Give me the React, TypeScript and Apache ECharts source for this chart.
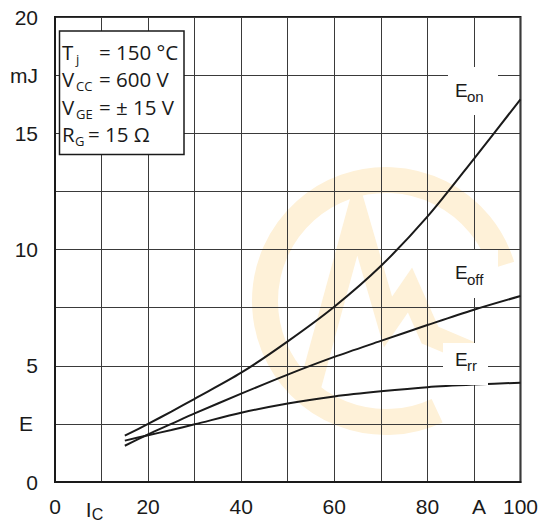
import React, { useEffect, useRef } from "react";
import * as echarts from "echarts";

// Collector current I_C (A)
const currentA = [15, 20, 25, 30, 40, 50, 60, 70, 80, 90, 100];
// Switching energies (mJ)
const eOnMJ = [1.99, 2.5, 3.03, 3.58, 4.7, 6.05, 7.54, 9.29, 11.41, 13.9, 16.46];
const eOffMJ = [1.56, 2.05, 2.5, 2.95, 3.8, 4.62, 5.38, 6.07, 6.75, 7.41, 8.0];
const eRrMJ = [1.78, 2.01, 2.24, 2.48, 2.98, 3.38, 3.68, 3.9, 4.08, 4.19, 4.27];

const xTickLabels: Record<string, string> = {
  "0": "0",
  "10": "{i|I}{c|C}",
  "20": "20",
  "40": "40",
  "60": "60",
  "80": "80",
  "90": "{a|A}",
  "100": "100",
};
const yTickLabels: Record<string, string> = {
  "0": "0",
  "2.5": "{e|E}",
  "5": "5",
  "10": "10",
  "15": "15",
  "17.5": "mJ",
  "20": "20",
};

// Conditions box: [main, subscript, value]
const conditions: [string, string, string][] = [
  ["T", "j", "= 150 °C"],
  ["V", "CC", "= 600 V"],
  ["V", "GE", "= ± 15 V"],
  ["R", "G", "= 15 Ω"],
];

// Curve labels: [main, subscript]
const curveLabels: [string, string][] = [
  ["E", "on"],
  ["E", "off"],
  ["E", "rr"],
];

const AXIS_FONT = "'Liberation Sans', Arial, sans-serif";
const BOX_FONT = "'Open Sans', 'Noto Sans', sans-serif";
const INK = "#1a1a1a";
const WATERMARK = "#fef1d8";

export default function App() {
  const ref = useRef<HTMLDivElement | null>(null);

  useEffect(() => {
    document.body.style.margin = "0";
    if (!ref.current) return;
    const chart = echarts.init(ref.current, undefined, { renderer: "svg" });

    const mkSeries = (vals: number[]) => ({
      type: "line",
      data: currentA.map((x, i) => [x, vals[i]]),
      showSymbol: false,
      smooth: 0.3,
      silent: true,
      lineStyle: { color: INK, width: 2 },
      z: 5,
    });

    // label box positions (pixels) for the three curve labels
    const labelBoxes = [
      { x: 448, y: 67, w: 50, h: 48, ex: 455, ey: 90, sx: 467, sy: 96.5 },
      { x: 448, y: 250, w: 50, h: 48, ex: 455, ey: 272.5, sx: 467, sy: 279 },
      { x: 443, y: 343, w: 45, h: 42, ex: 455, ey: 359, sx: 467, sy: 365.5 },
    ];

    const graphics: any[] = [];

    // faint watermark
    graphics.push({
      type: "arc",
      z: -10,
      silent: true,
      shape: {
        cx: 386,
        cy: 301,
        r: 121,
        startAngle: (65 * Math.PI) / 180,
        endAngle: (343 * Math.PI) / 180,
        clockwise: true,
      },
      style: { stroke: WATERMARK, lineWidth: 26, fill: null },
    });
    graphics.push({
      type: "polyline",
      z: -10,
      silent: true,
      shape: {
        points: [
          [307, 398],
          [357, 215],
          [388, 322],
          [410, 290],
          [430, 335],
          [470, 352],
        ],
      },
      style: { stroke: WATERMARK, lineWidth: 22, fill: null, lineJoin: "miter" },
    });

    labelBoxes.forEach((b, i) => {
      graphics.push({
        type: "rect",
        z: 10,
        silent: true,
        shape: { x: b.x, y: b.y, width: b.w, height: b.h },
        style: { fill: "#ffffff" },
      });
      graphics.push({
        type: "text",
        z: 11,
        silent: true,
        x: b.ex,
        y: b.ey,
        style: {
          text: curveLabels[i][0],
          font: `19px ${AXIS_FONT}`,
          fill: INK,
          verticalAlign: "middle",
          align: "left",
        },
      });
      graphics.push({
        type: "text",
        z: 11,
        silent: true,
        x: b.sx,
        y: b.sy,
        style: {
          text: curveLabels[i][1],
          font: `15px ${AXIS_FONT}`,
          fill: INK,
          verticalAlign: "middle",
          align: "left",
        },
      });
    });

    // conditions box
    graphics.push({
      type: "rect",
      z: 10,
      silent: true,
      shape: { x: 59.5, y: 31, width: 124.5, height: 123.5 },
      style: { fill: "#ffffff", stroke: INK, lineWidth: 1.5 },
    });
    const rowY = [51.5, 79, 106.5, 134];
    const subX = [76, 76, 76, 75];
    const valX = [99, 99, 99, 88];
    conditions.forEach((c, i) => {
      graphics.push({
        type: "text",
        z: 11,
        silent: true,
        x: 62,
        y: rowY[i],
        style: { text: c[0], font: `20.5px ${BOX_FONT}`, fill: INK, verticalAlign: "middle" },
      });
      graphics.push({
        type: "text",
        z: 11,
        silent: true,
        x: subX[i],
        y: rowY[i] + 7,
        style: { text: c[1], font: `13px ${BOX_FONT}`, fill: INK, verticalAlign: "middle" },
      });
      graphics.push({
        type: "text",
        z: 11,
        silent: true,
        x: valX[i],
        y: rowY[i],
        style: { text: c[2], font: `20.5px ${BOX_FONT}`, fill: INK, verticalAlign: "middle" },
      });
    });

    chart.setOption({
      animation: false,
      backgroundColor: "#ffffff",
      grid: {
        left: 55,
        right: 18.5,
        top: 17,
        bottom: 39.5,
        show: true,
        borderColor: INK,
        borderWidth: 2,
        backgroundColor: "transparent",
      },
      xAxis: {
        type: "value",
        min: 0,
        max: 100,
        interval: 10,
        axisLine: { show: true, lineStyle: { color: INK, width: 2 } },
        axisTick: { show: false },
        splitLine: { show: true, lineStyle: { color: "#3a3a3a", width: 1 } },
        axisLabel: {
          margin: 14,
          color: INK,
          fontFamily: AXIS_FONT,
          fontSize: 21,
          showMinLabel: true,
          showMaxLabel: true,
          formatter: (v: number) => xTickLabels[String(v)] ?? "",
          rich: {
            i: { fontFamily: AXIS_FONT, fontSize: 21, color: INK },
            c: { fontFamily: AXIS_FONT, fontSize: 16, color: INK, padding: [10, 14, 0, 0] },
            a: { fontFamily: AXIS_FONT, fontSize: 21, color: INK, padding: [0, 0, 0, 10] },
          },
        },
      },
      yAxis: {
        type: "value",
        min: 0,
        max: 20,
        interval: 2.5,
        axisLine: { show: true, lineStyle: { color: INK, width: 2 } },
        axisTick: { show: false },
        splitLine: { show: true, lineStyle: { color: "#3a3a3a", width: 1 } },
        axisLabel: {
          margin: 17,
          color: INK,
          fontFamily: AXIS_FONT,
          fontSize: 21,
          showMinLabel: true,
          showMaxLabel: true,
          formatter: (v: number) => yTickLabels[String(v)] ?? "",
          rich: {
            e: { fontFamily: AXIS_FONT, fontSize: 21, color: INK, padding: [0, 5, 0, 0] },
          },
        },
      },
      series: [mkSeries(eOnMJ), mkSeries(eOffMJ), mkSeries(eRrMJ)],
      graphic: { elements: graphics },
    });

    return () => {
      chart.dispose();
    };
  }, []);

  return <div ref={ref} style={{ width: 541, height: 522 }} />;
}
